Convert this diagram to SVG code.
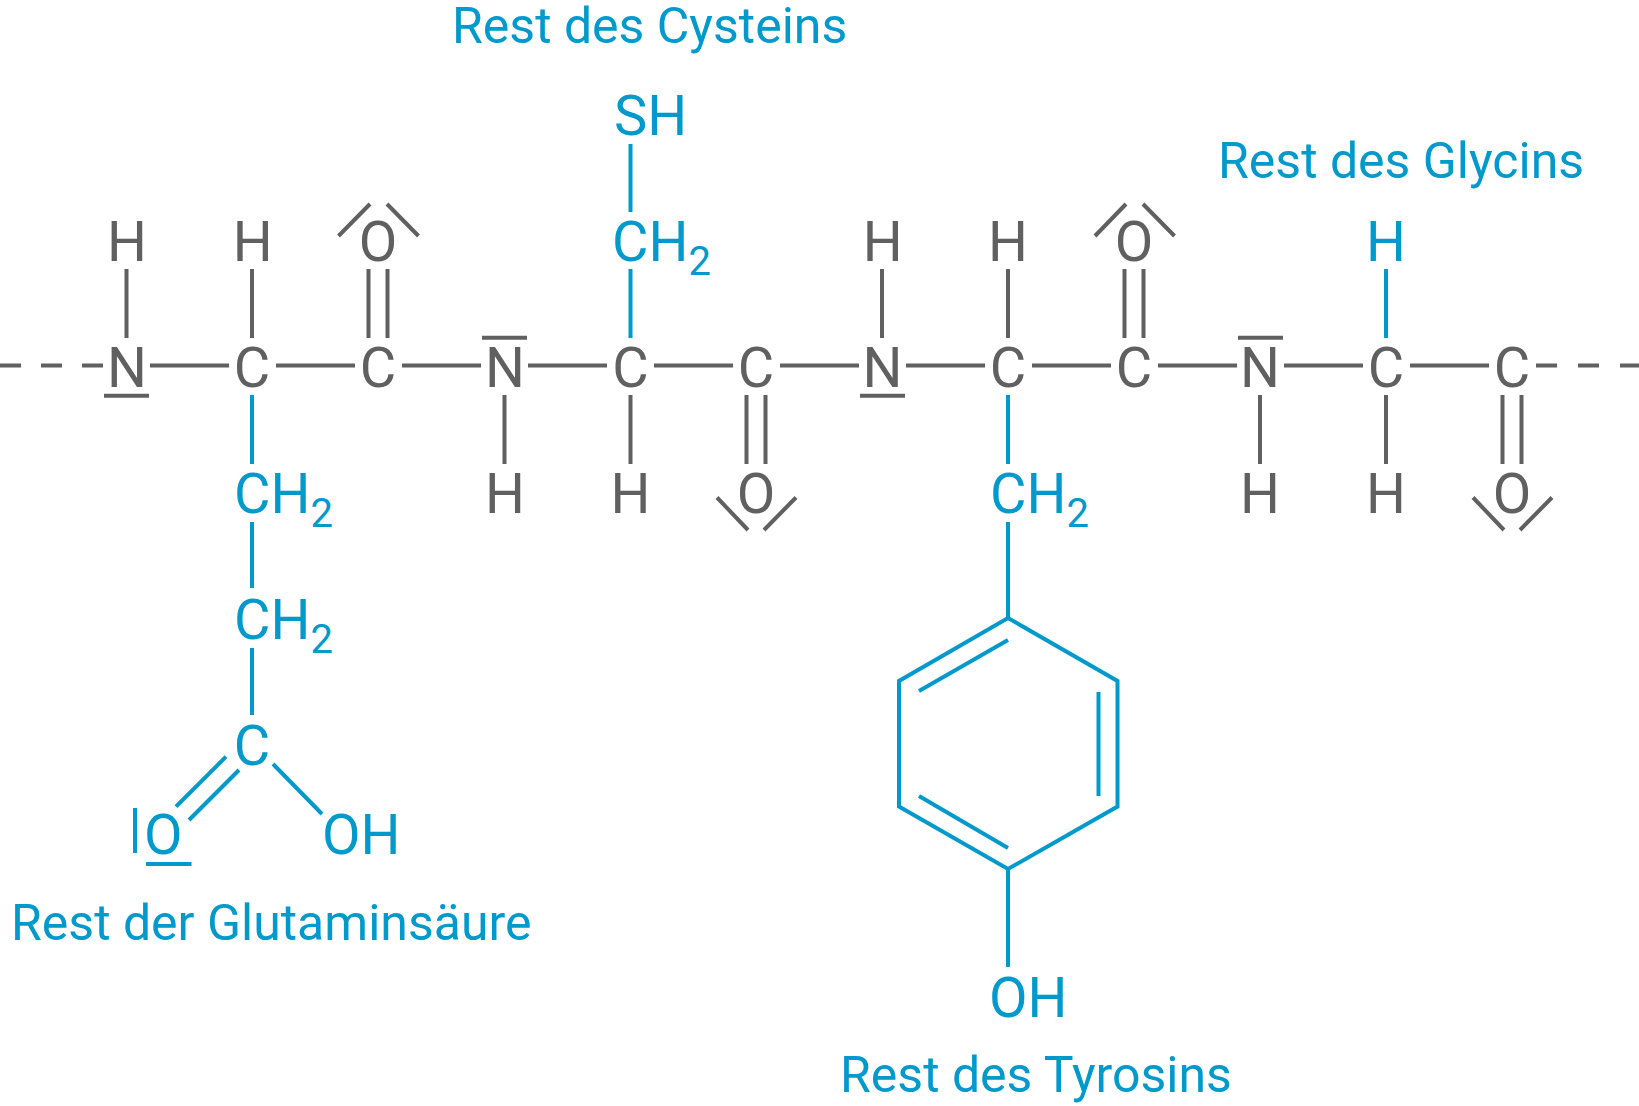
<svg xmlns="http://www.w3.org/2000/svg" width="1639" height="1106" viewBox="0 0 1639 1106">
<style>
text{font-family:Roboto,"Liberation Sans",sans-serif;font-size:56px}
.a{text-anchor:middle}
.g{fill:#606060}
.b{fill:#0099cc}
.l{font-size:50px;fill:#0099cc}
.s{font-size:40px}
#bonds-gray path{fill:none;stroke:#606060;stroke-width:4}
#bonds-blue path{fill:none;stroke:#0099cc;stroke-width:4}
</style>
<rect width="1639" height="1106" fill="#fff"/>
<g id="connectors">
<g id="bonds-gray">
<path d="M0 365.500H21M41 365.500H62M82 365.500H103M150 365.500H229M276 365.500H355M402 365.500H481M528 365.500H607M654 365.500H733M780 365.500H859M906 365.500H985M1032 365.500H1111M1158 365.500H1237M1284 365.500H1363M1410 365.500H1489M1536 365.500H1557M1578 365.500H1599M1620 365.500H1639"/>
<path d="M126.500 269V338M252 269V338M368.500 269V338M387.500 269V338M504.500 395V464M630.500 395V464M746.500 395V464M765.500 395V464M882 269V338M1008 269V338M1124.500 269V338M1143.500 269V338M1260 395V464M1386 395V464M1502.500 395V464M1521.500 395V464"/>
<path d="M338.500 236L370 204M387 204L418.500 236M717 497.500L748 530M796 497.500L764 530M1095 236L1126 204M1143 204L1174.500 236M1473 497.500L1504 530M1552 497.500L1520 530"/>
<path d="M104 395.700H149M482 337.700H527M860 395.700H905M1238 337.700H1283"/>
</g>
<g id="bonds-blue">
<path d="M252 395V464M252 522V588M252 648V715M630.500 144V212M630.500 269V338M1008 395V464M1008 522V618M1008 869V967M1386 269V338"/>
<path d="M226 756.700L176 806.700M239 770L189 820M273 764L322 814"/>
<path d="M135 808V853M146 864H191.500"/>
<path d="M1008 618L1117.500 681V806.500L1008 869L899 806.500V681Z"/>
<path d="M919 691L1008 640M1098.500 692V796M919 796L1008 848"/>
</g>
</g>
<g id="n1"><text class="a g" x="127" y="387">N</text></g>
<g id="h1"><text class="a g" x="127" y="261">H</text></g>
<g id="c1"><text class="a g" x="252" y="387">C</text></g>
<g id="h2"><text class="a g" x="252.700" y="261">H</text></g>
<g id="c2"><text class="a g" x="378" y="387">C</text></g>
<g id="o1"><text class="a g" x="378" y="261">O</text></g>
<g id="n2"><text class="a g" x="505" y="387">N</text></g>
<g id="h3"><text class="a g" x="505" y="513">H</text></g>
<g id="c3"><text class="a g" x="630.500" y="387">C</text></g>
<g id="h4"><text class="a g" x="630.500" y="513">H</text></g>
<g id="c4"><text class="a g" x="756" y="387">C</text></g>
<g id="o2"><text class="a g" x="756" y="513">O</text></g>
<g id="n3"><text class="a g" x="882.500" y="387">N</text></g>
<g id="h5"><text class="a g" x="882.700" y="261">H</text></g>
<g id="c5"><text class="a g" x="1008" y="387">C</text></g>
<g id="h6"><text class="a g" x="1008" y="261">H</text></g>
<g id="c6"><text class="a g" x="1134" y="387">C</text></g>
<g id="o3"><text class="a g" x="1134" y="261">O</text></g>
<g id="n4"><text class="a g" x="1260" y="387">N</text></g>
<g id="h7"><text class="a g" x="1260" y="513">H</text></g>
<g id="c7"><text class="a g" x="1386" y="387">C</text></g>
<g id="h8"><text class="a b" x="1386" y="261">H</text></g>
<g id="h9"><text class="a g" x="1386" y="513">H</text></g>
<g id="c8"><text class="a g" x="1512" y="387">C</text></g>
<g id="o4"><text class="a g" x="1512" y="513">O</text></g>
<g id="glu"><text class="b" x="234" y="513">CH<tspan class="s" dy="14">2</tspan></text>
<text class="b" x="234" y="639">CH<tspan class="s" dy="14">2</tspan></text>
<text class="a b" x="252" y="765">C</text>
<text class="b" x="144" y="854">O</text>
<text class="b" x="322" y="854">OH</text>
<text class="l" x="11" y="940">Rest der Glutaminsäure</text></g>
<g id="cys"><text class="b" x="614" y="135">SH</text>
<text class="b" x="612" y="261">CH<tspan class="s" dy="14">2</tspan></text>
<text class="l" x="452" y="43">Rest des Cysteins</text></g>
<g id="tyr"><text class="b" x="990" y="513">CH<tspan class="s" dy="14">2</tspan></text>
<text class="b" x="989" y="1017">OH</text>
<text class="l" x="840" y="1092">Rest des Tyrosins</text></g>
<g id="gly"><text class="l" x="1218" y="178">Rest des Glycins</text></g>
</svg>
